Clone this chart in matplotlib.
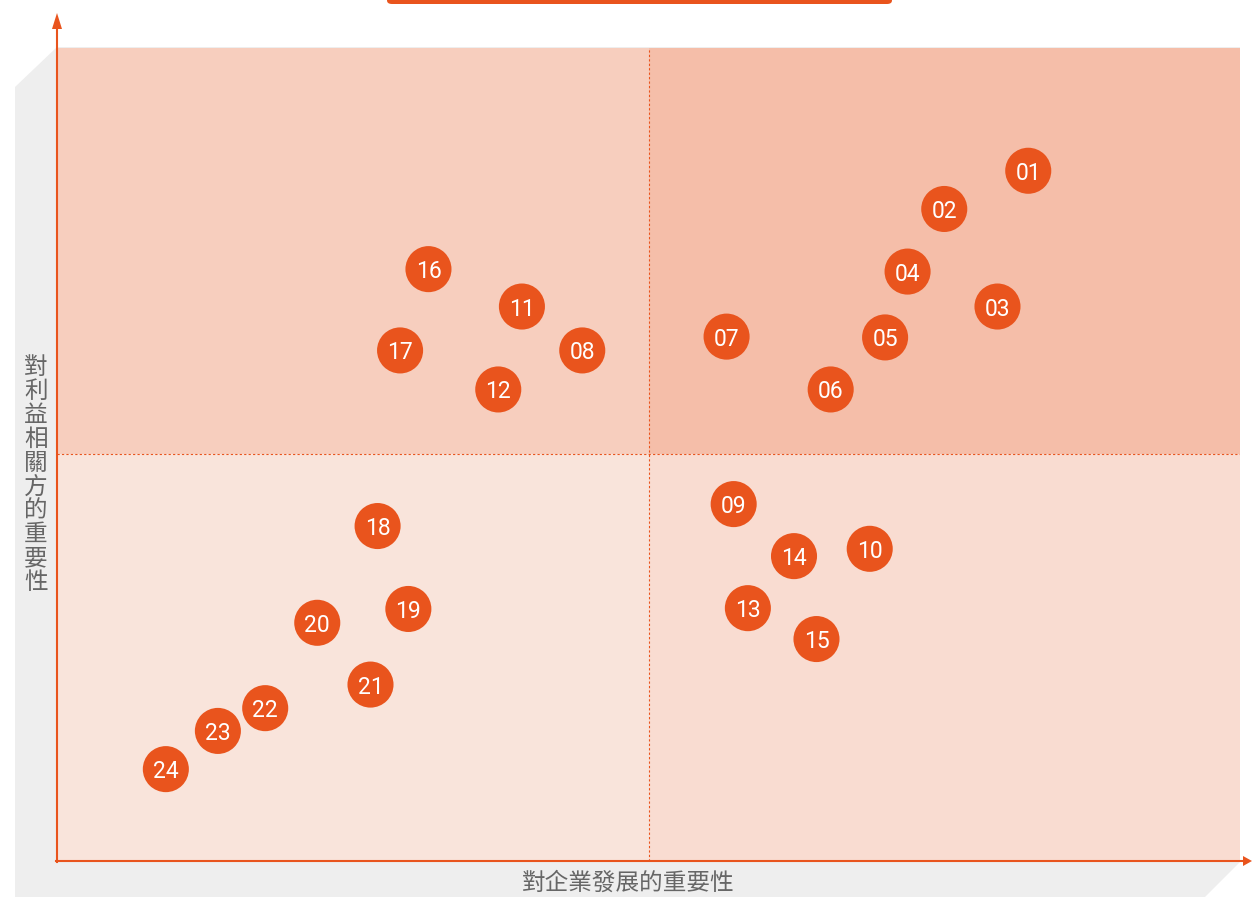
import matplotlib
matplotlib.use("Agg")
import matplotlib.pyplot as plt
from matplotlib.patches import Polygon, Rectangle, FancyBboxPatch

plt.rcParams['font.family'] = ['Noto Sans CJK TC', 'DejaVu Sans']

# Topic labels and their positions on the materiality matrix (0-10 scale)
labels = ["01", "02", "03", "04", "05", "06", "07", "08", "09", "10", "11", "12",
          "13", "14", "15", "16", "17", "18", "19", "20", "21", "22", "23", "24"]
business_importance = [8.21, 7.50, 7.95, 7.19, 7.00, 6.54, 5.66, 4.44, 5.72, 6.87, 3.93, 3.73,
                       5.84, 6.23, 6.42, 3.14, 2.90, 2.71, 2.97, 2.20, 2.65, 1.76, 1.36, 0.92]
stakeholder_importance = [8.49, 8.02, 6.82, 7.25, 6.44, 5.80, 6.45, 6.28, 4.39, 3.84, 6.82, 5.80,
                          3.11, 3.75, 2.73, 7.28, 6.28, 4.12, 3.10, 2.93, 2.17, 1.88, 1.60, 1.13]

x_title = "對企業發展的重要性"
y_title = "對利益相關方的重要性"

ORANGE = "#E9541D"
W, H = 1252, 897

fig = plt.figure(figsize=(W / 100, H / 100), dpi=100)


def fx(px):
    return px / W


def fy(py):
    return 1 - py / H


# grey backdrop behind the plotting panel
backdrop = Polygon([(fx(15), fy(87)), (fx(57), fy(47)), (fx(1240), fy(47)),
                    (fx(1240), fy(862)), (fx(1205), fy(897)), (fx(15), fy(897))],
                   closed=True, transform=fig.transFigure, facecolor="#EEEEEE",
                   edgecolor="none", zorder=-2)
fig.patches.append(backdrop)

# orange tab at the top edge
tab = FancyBboxPatch((fx(387), fy(4)), fx(892) - fx(387), fy(-6) - fy(4),
                     boxstyle="round,pad=0,rounding_size=0.004",
                     transform=fig.transFigure, facecolor=ORANGE, edgecolor="none", zorder=1)
fig.patches.append(tab)

ax = fig.add_axes([fx(57), fy(861), fx(1240) - fx(57), fy(48) - fy(861)])
ax.set_xlim(0, 10)
ax.set_ylim(0, 10)
ax.axis("off")

# quadrant shading
quads = [((0, 5), "#F7CEBE"), ((5, 5), "#F5BEA9"), ((0, 0), "#F9E4DB"), ((5, 0), "#F9DCD1")]
for (x0, y0), c in quads:
    ax.add_patch(Rectangle((x0, y0), 5, 5, facecolor=c, edgecolor="none", zorder=0))

ax.axvline(5, color=ORANGE, lw=0.8, ls=(0, (2, 2)), zorder=1)
ax.axhline(5, color=ORANGE, lw=0.8, ls=(0, (2, 2)), zorder=1)

ax.scatter(business_importance, stakeholder_importance, s=1100, color=ORANGE,
           edgecolors="none", zorder=3)
for lab, x, y in zip(labels, business_importance, stakeholder_importance):
    ax.text(x, y, lab, color="white", fontsize=16.5, ha="center", va="center_baseline",
            family=["Roboto", "DejaVu Sans"], fontweight="normal", zorder=4)

# axis arrows
fig.add_artist(plt.Line2D([fx(57), fx(57)], [fy(862), fy(25)], transform=fig.transFigure,
                          color=ORANGE, lw=1.5, zorder=5))
fig.add_artist(plt.Line2D([fx(56), fx(1244)], [fy(861), fy(861)], transform=fig.transFigure,
                          color=ORANGE, lw=1.5, zorder=5))
fig.patches.append(Polygon([(fx(52), fy(29)), (fx(57), fy(13)), (fx(62), fy(29))], closed=True,
                           transform=fig.transFigure, facecolor=ORANGE, edgecolor="none", zorder=5))
fig.patches.append(Polygon([(fx(1243), fy(856)), (fx(1252), fy(861)), (fx(1243), fy(866))],
                           closed=True, transform=fig.transFigure, facecolor=ORANGE,
                           edgecolor="none", zorder=5))

fig.text(fx(628), fy(883), x_title, color="#666666", fontsize=17, ha="center", va="center")
fig.text(fx(36), fy(475), "\n".join(y_title), color="#666666", fontsize=17, ha="center",
         va="center", linespacing=1.05)

fig.savefig("out.png", dpi=100)
